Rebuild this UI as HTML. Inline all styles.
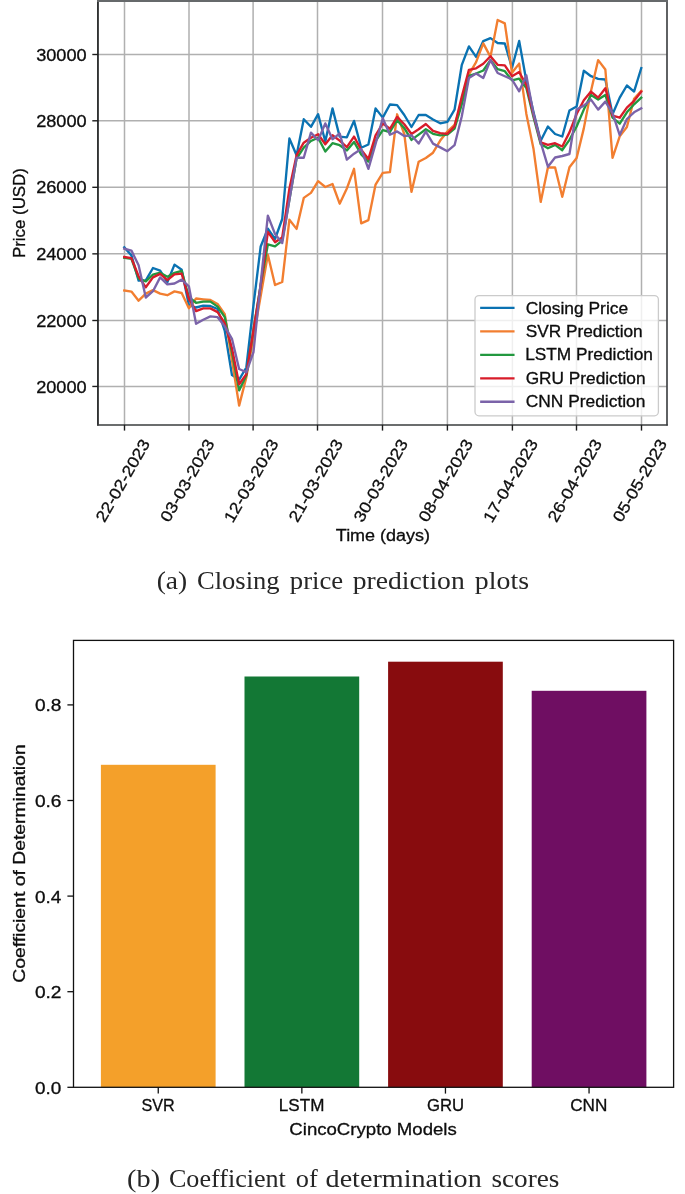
<!DOCTYPE html><html><head><meta charset="utf-8"><style>html,body{margin:0;padding:0;background:#fff;}svg{display:block;will-change:transform;}</style></head><body>
<svg width="685" height="1194" viewBox="0 0 685 1194">
<rect width="685" height="1194" fill="#fff"/>
<path d="M124.50,0.6V424.8M189.00,0.6V424.8M253.10,0.6V424.8M317.50,0.6V424.8M382.50,0.6V424.8M447.40,0.6V424.8M512.40,0.6V424.8M576.50,0.6V424.8M641.50,0.6V424.8M98.15,386.45H666.9M98.15,320.50H666.9M98.15,253.85H666.9M98.15,187.30H666.9M98.15,120.80H666.9M98.15,54.50H666.9" stroke="#b0b0b0" stroke-width="1.5" fill="none"/>
<clipPath id="c1"><rect x="98.15" y="0.6" width="568.75" height="424.2"/></clipPath>
<g clip-path="url(#c1)">
<polyline points="124.25,247.30 131.43,255.40 138.61,280.60 145.79,280.40 152.97,268.00 160.15,270.70 167.33,282.20 174.51,264.60 181.69,269.70 188.88,305.20 196.06,307.50 203.24,305.60 210.42,306.00 217.60,309.00 224.78,331.00 231.96,375.00 239.14,379.60 246.32,367.50 253.50,305.00 260.68,246.50 267.86,228.70 275.04,239.00 282.22,219.00 289.40,138.50 296.58,155.20 303.76,119.20 310.95,126.80 318.13,114.20 325.31,141.50 332.49,108.40 339.67,136.60 346.85,137.30 354.03,120.90 361.21,147.80 368.39,144.50 375.57,108.40 382.75,117.60 389.93,104.50 397.11,105.10 404.29,115.00 411.47,127.00 418.65,115.00 425.84,115.00 433.02,119.50 440.20,123.30 447.38,121.80 454.56,109.70 461.74,65.20 468.92,46.40 476.10,56.90 483.28,41.10 490.46,38.10 497.64,43.00 504.82,43.50 512.00,67.80 519.18,41.00 526.36,81.00 533.54,112.20 540.72,140.70 547.91,126.50 555.09,134.00 562.27,136.50 569.45,110.50 576.63,106.40 583.81,70.80 590.99,76.20 598.17,78.80 605.35,79.50 612.53,114.30 619.71,97.60 626.89,85.50 634.07,91.60 641.25,68.10" fill="none" stroke="#0a72b2" stroke-width="2.35" stroke-linejoin="round" stroke-linecap="square"/>
<polyline points="124.25,290.50 131.43,291.60 138.61,300.70 145.79,293.60 152.97,290.10 160.15,293.60 167.33,295.20 174.51,291.40 181.69,293.00 188.88,308.30 196.06,298.50 203.24,299.30 210.42,300.00 217.60,304.00 224.78,314.10 231.96,360.00 239.14,405.60 246.32,377.40 253.50,337.00 260.68,296.00 267.86,254.80 275.04,285.00 282.22,282.00 289.40,219.70 296.58,228.90 303.76,197.90 310.95,192.90 318.13,181.20 325.31,187.00 332.49,184.00 339.67,203.70 346.85,188.50 354.03,168.80 361.21,223.40 368.39,220.10 375.57,184.60 382.75,172.80 389.93,172.10 397.11,114.30 404.29,134.00 411.47,191.90 418.65,161.70 425.84,158.00 433.02,152.70 440.20,140.60 447.38,131.60 454.56,124.80 461.74,103.00 468.92,74.30 476.10,62.20 483.28,43.40 490.46,56.90 497.64,20.00 504.82,23.40 512.00,72.80 519.18,63.60 526.36,113.90 533.54,149.10 540.72,201.90 547.91,167.50 555.09,167.50 562.27,196.80 569.45,167.30 576.63,158.00 583.81,128.40 590.99,90.90 598.17,60.10 605.35,69.50 612.53,157.80 619.71,136.40 626.89,127.00 634.07,98.90 641.25,90.90" fill="none" stroke="#f27e30" stroke-width="2.35" stroke-linejoin="round" stroke-linecap="square"/>
<polyline points="124.25,257.70 131.43,258.90 138.61,278.60 145.79,281.40 152.97,274.70 160.15,272.70 167.33,276.70 174.51,272.90 181.69,270.90 188.88,297.30 196.06,302.80 203.24,301.60 210.42,301.60 217.60,306.60 224.78,317.10 231.96,352.30 239.14,390.40 246.32,375.40 253.50,330.00 260.68,285.00 267.86,244.30 275.04,246.40 282.22,240.60 289.40,199.60 296.58,158.60 303.76,147.70 310.95,141.00 318.13,137.70 325.31,151.50 332.49,143.20 339.67,145.20 346.85,150.40 354.03,141.90 361.21,154.40 368.39,161.60 375.57,141.20 382.75,130.10 389.93,132.00 397.11,120.20 404.29,128.10 411.47,139.90 418.65,134.60 425.84,129.30 433.02,133.80 440.20,135.30 447.38,134.60 454.56,128.60 461.74,104.40 468.92,75.80 476.10,73.50 483.28,70.50 490.46,60.10 497.64,69.20 504.82,71.20 512.00,80.40 519.18,78.70 526.36,88.00 533.54,117.30 540.72,144.10 547.91,148.30 555.09,144.90 562.27,150.20 569.45,139.80 576.63,126.50 583.81,109.60 590.99,94.90 598.17,99.60 605.35,94.90 612.53,117.70 619.71,123.70 626.89,112.30 634.07,104.30 641.25,97.60" fill="none" stroke="#22983f" stroke-width="2.35" stroke-linejoin="round" stroke-linecap="square"/>
<polyline points="124.25,257.00 131.43,258.10 138.61,276.30 145.79,287.30 152.97,277.40 160.15,273.90 167.33,280.20 174.51,274.40 181.69,273.70 188.88,298.90 196.06,311.10 203.24,308.30 210.42,308.40 217.60,312.10 224.78,323.20 231.96,348.30 239.14,384.20 246.32,374.30 253.50,330.00 260.68,285.60 267.86,231.80 275.04,242.20 282.22,237.50 289.40,188.70 296.58,155.20 303.76,142.70 310.95,137.70 318.13,134.30 325.31,144.20 332.49,135.20 339.67,140.60 346.85,147.20 354.03,136.60 361.21,149.80 368.39,159.00 375.57,135.30 382.75,123.50 389.93,128.80 397.11,116.90 404.29,124.20 411.47,134.00 418.65,129.30 425.84,124.00 433.02,130.80 440.20,133.10 447.38,133.80 454.56,126.30 461.74,96.90 468.92,69.80 476.10,68.30 483.28,63.70 490.46,56.20 497.64,64.80 504.82,65.30 512.00,76.20 519.18,72.00 526.36,85.00 533.54,115.00 540.72,142.40 547.91,144.90 555.09,143.20 562.27,146.50 569.45,132.40 576.63,114.00 583.81,100.30 590.99,91.60 598.17,97.60 605.35,88.20 612.53,115.70 619.71,117.70 626.89,107.60 634.07,100.90 641.25,91.60" fill="none" stroke="#d81c2a" stroke-width="2.35" stroke-linejoin="round" stroke-linecap="square"/>
<polyline points="124.25,248.70 131.43,250.60 138.61,265.20 145.79,297.50 152.97,291.20 160.15,277.40 167.33,284.40 174.51,283.50 181.69,279.60 188.88,286.30 196.06,323.80 203.24,319.70 210.42,316.40 217.60,317.20 224.78,326.40 231.96,338.80 239.14,369.00 246.32,372.30 253.50,352.00 260.68,283.00 267.86,215.60 275.04,234.00 282.22,243.00 289.40,200.00 296.58,157.70 303.76,157.70 310.95,132.60 318.13,140.20 325.31,123.40 332.49,139.30 339.67,133.40 346.85,159.60 354.03,153.70 361.21,149.10 368.39,168.80 375.57,143.90 382.75,118.20 389.93,134.70 397.11,131.40 404.29,136.00 411.47,135.30 418.65,143.60 425.84,131.60 433.02,143.60 440.20,147.40 447.38,151.20 454.56,145.20 461.74,116.50 468.92,78.00 476.10,73.50 483.28,78.00 490.46,60.00 497.64,73.00 504.82,76.20 512.00,79.50 519.18,91.30 526.36,75.40 533.54,113.90 540.72,142.40 547.91,166.70 555.09,157.50 562.27,156.00 569.45,154.00 576.63,109.50 583.81,105.60 590.99,99.60 598.17,109.60 605.35,101.60 612.53,113.00 619.71,135.10 626.89,119.00 634.07,112.30 641.25,108.30" fill="none" stroke="#7b63a9" stroke-width="2.35" stroke-linejoin="round" stroke-linecap="square"/>
</g>
<rect x="475.0" y="295.6" width="183.4" height="120.2" rx="4" ry="4" fill="#fff" fill-opacity="0.8" stroke="#cbcbcb" stroke-width="1.3"/>
<path d="M481.3,307.95H513.4" stroke="#0a72b2" stroke-width="2.3" stroke-linecap="square"/>
<path d="M481.3,331.40H513.4" stroke="#f27e30" stroke-width="2.3" stroke-linecap="square"/>
<path d="M481.3,354.85H513.4" stroke="#22983f" stroke-width="2.3" stroke-linecap="square"/>
<path d="M481.3,378.30H513.4" stroke="#d81c2a" stroke-width="2.3" stroke-linecap="square"/>
<path d="M481.3,401.75H513.4" stroke="#7b63a9" stroke-width="2.3" stroke-linecap="square"/>
<path d="M97.95,425.6V0" stroke="#262829" stroke-width="1.8" fill="none"/>
<path d="M667.0,425.6V0" stroke="#3e4143" stroke-width="1.65" fill="none"/>
<path d="M97.05,424.95H667.8" stroke="#3a3c3e" stroke-width="1.35" fill="none"/>
<rect x="97.05" y="0" width="570.75" height="2.0" fill="#66696b"/>
<path d="M92.3,386.45H98.15" stroke="#1e1e1e" stroke-width="1.4"/>
<path d="M92.3,320.50H98.15" stroke="#1e1e1e" stroke-width="1.4"/>
<path d="M92.3,253.85H98.15" stroke="#1e1e1e" stroke-width="1.4"/>
<path d="M92.3,187.30H98.15" stroke="#1e1e1e" stroke-width="1.4"/>
<path d="M92.3,120.80H98.15" stroke="#1e1e1e" stroke-width="1.4"/>
<path d="M92.3,54.50H98.15" stroke="#1e1e1e" stroke-width="1.4"/>
<path d="M124.50,424.8V430.6" stroke="#1e1e1e" stroke-width="1.4"/>
<path d="M189.00,424.8V430.6" stroke="#1e1e1e" stroke-width="1.4"/>
<path d="M253.10,424.8V430.6" stroke="#1e1e1e" stroke-width="1.4"/>
<path d="M317.50,424.8V430.6" stroke="#1e1e1e" stroke-width="1.4"/>
<path d="M382.50,424.8V430.6" stroke="#1e1e1e" stroke-width="1.4"/>
<path d="M447.40,424.8V430.6" stroke="#1e1e1e" stroke-width="1.4"/>
<path d="M512.40,424.8V430.6" stroke="#1e1e1e" stroke-width="1.4"/>
<path d="M576.50,424.8V430.6" stroke="#1e1e1e" stroke-width="1.4"/>
<path d="M641.50,424.8V430.6" stroke="#1e1e1e" stroke-width="1.4"/>
<rect x="100.90" y="764.8" width="114.7" height="322.50" fill="#f4a02a"/>
<rect x="244.50" y="676.5" width="114.7" height="410.80" fill="#137835"/>
<rect x="388.10" y="661.7" width="114.7" height="425.60" fill="#880c0e"/>
<rect x="531.70" y="690.8" width="114.7" height="396.50" fill="#6f0e62"/>
<rect x="73.5" y="640.4" width="600.10" height="446.90" fill="none" stroke="#111" stroke-width="1.3"/>
<path d="M67.4,1087.30H73.5" stroke="#111" stroke-width="1.3"/>
<path d="M67.4,991.70H73.5" stroke="#111" stroke-width="1.3"/>
<path d="M67.4,896.10H73.5" stroke="#111" stroke-width="1.3"/>
<path d="M67.4,800.50H73.5" stroke="#111" stroke-width="1.3"/>
<path d="M67.4,704.90H73.5" stroke="#111" stroke-width="1.3"/>
<path d="M158.25,1087.3V1093.6" stroke="#111" stroke-width="1.3"/>
<path d="M301.85,1087.3V1093.6" stroke="#111" stroke-width="1.3"/>
<path d="M445.45,1087.3V1093.6" stroke="#111" stroke-width="1.3"/>
<path d="M589.05,1087.3V1093.6" stroke="#111" stroke-width="1.3"/>
<text x="36.15" y="392.50" textLength="50.52" lengthAdjust="spacingAndGlyphs" font-family='"Liberation Sans", sans-serif' font-size="16.0" fill="#0d0d0d" stroke="#0d0d0d" stroke-width="0.3">20000</text>
<text x="36.15" y="326.55" textLength="50.52" lengthAdjust="spacingAndGlyphs" font-family='"Liberation Sans", sans-serif' font-size="16.0" fill="#0d0d0d" stroke="#0d0d0d" stroke-width="0.3">22000</text>
<text x="36.15" y="259.90" textLength="50.52" lengthAdjust="spacingAndGlyphs" font-family='"Liberation Sans", sans-serif' font-size="16.0" fill="#0d0d0d" stroke="#0d0d0d" stroke-width="0.3">24000</text>
<text x="36.15" y="193.35" textLength="50.52" lengthAdjust="spacingAndGlyphs" font-family='"Liberation Sans", sans-serif' font-size="16.0" fill="#0d0d0d" stroke="#0d0d0d" stroke-width="0.3">26000</text>
<text x="36.15" y="126.85" textLength="50.52" lengthAdjust="spacingAndGlyphs" font-family='"Liberation Sans", sans-serif' font-size="16.0" fill="#0d0d0d" stroke="#0d0d0d" stroke-width="0.3">28000</text>
<text x="36.15" y="60.55" textLength="50.52" lengthAdjust="spacingAndGlyphs" font-family='"Liberation Sans", sans-serif' font-size="16.0" fill="#0d0d0d" stroke="#0d0d0d" stroke-width="0.3">30000</text>
<text x="0" y="0" transform="translate(104.41,523.23) rotate(-60)" textLength="92.30" lengthAdjust="spacingAndGlyphs" font-family='"Liberation Sans", sans-serif' font-size="16.0" fill="#0d0d0d" stroke="#0d0d0d" stroke-width="0.3">22-02-2023</text>
<text x="0" y="0" transform="translate(168.91,523.23) rotate(-60)" textLength="92.30" lengthAdjust="spacingAndGlyphs" font-family='"Liberation Sans", sans-serif' font-size="16.0" fill="#0d0d0d" stroke="#0d0d0d" stroke-width="0.3">03-03-2023</text>
<text x="0" y="0" transform="translate(232.72,523.73) rotate(-60)" textLength="92.88" lengthAdjust="spacingAndGlyphs" font-family='"Liberation Sans", sans-serif' font-size="16.0" fill="#0d0d0d" stroke="#0d0d0d" stroke-width="0.3">12-03-2023</text>
<text x="0" y="0" transform="translate(297.41,523.23) rotate(-60)" textLength="92.30" lengthAdjust="spacingAndGlyphs" font-family='"Liberation Sans", sans-serif' font-size="16.0" fill="#0d0d0d" stroke="#0d0d0d" stroke-width="0.3">21-03-2023</text>
<text x="0" y="0" transform="translate(362.41,523.23) rotate(-60)" textLength="92.30" lengthAdjust="spacingAndGlyphs" font-family='"Liberation Sans", sans-serif' font-size="16.0" fill="#0d0d0d" stroke="#0d0d0d" stroke-width="0.3">30-03-2023</text>
<text x="0" y="0" transform="translate(427.31,523.23) rotate(-60)" textLength="92.30" lengthAdjust="spacingAndGlyphs" font-family='"Liberation Sans", sans-serif' font-size="16.0" fill="#0d0d0d" stroke="#0d0d0d" stroke-width="0.3">08-04-2023</text>
<text x="0" y="0" transform="translate(492.02,523.73) rotate(-60)" textLength="92.88" lengthAdjust="spacingAndGlyphs" font-family='"Liberation Sans", sans-serif' font-size="16.0" fill="#0d0d0d" stroke="#0d0d0d" stroke-width="0.3">17-04-2023</text>
<text x="0" y="0" transform="translate(556.41,523.23) rotate(-60)" textLength="92.30" lengthAdjust="spacingAndGlyphs" font-family='"Liberation Sans", sans-serif' font-size="16.0" fill="#0d0d0d" stroke="#0d0d0d" stroke-width="0.3">26-04-2023</text>
<text x="0" y="0" transform="translate(621.41,523.23) rotate(-60)" textLength="92.30" lengthAdjust="spacingAndGlyphs" font-family='"Liberation Sans", sans-serif' font-size="16.0" fill="#0d0d0d" stroke="#0d0d0d" stroke-width="0.3">05-05-2023</text>
<text x="335.82" y="541.17" textLength="94.25" lengthAdjust="spacingAndGlyphs" font-family='"Liberation Sans", sans-serif' font-size="16.0" fill="#0d0d0d" stroke="#0d0d0d" stroke-width="0.3">Time (days)</text>
<text x="0" y="0" transform="translate(25.23,258.12) rotate(-90)" textLength="90.07" lengthAdjust="spacingAndGlyphs" font-family='"Liberation Sans", sans-serif' font-size="16.0" fill="#0d0d0d" stroke="#0d0d0d" stroke-width="0.3">Price (USD)</text>
<text x="525.68" y="313.65" textLength="102.45" lengthAdjust="spacingAndGlyphs" font-family='"Liberation Sans", sans-serif' font-size="16.0" fill="#0d0d0d" stroke="#0d0d0d" stroke-width="0.3">Closing Price</text>
<text x="525.69" y="336.95" textLength="116.99" lengthAdjust="spacingAndGlyphs" font-family='"Liberation Sans", sans-serif' font-size="16.0" fill="#0d0d0d" stroke="#0d0d0d" stroke-width="0.3">SVR Prediction</text>
<text x="525.15" y="360.25" textLength="127.75" lengthAdjust="spacingAndGlyphs" font-family='"Liberation Sans", sans-serif' font-size="16.0" fill="#0d0d0d" stroke="#0d0d0d" stroke-width="0.3">LSTM Prediction</text>
<text x="525.69" y="383.55" textLength="119.86" lengthAdjust="spacingAndGlyphs" font-family='"Liberation Sans", sans-serif' font-size="16.0" fill="#0d0d0d" stroke="#0d0d0d" stroke-width="0.3">GRU Prediction</text>
<text x="525.69" y="406.85" textLength="119.72" lengthAdjust="spacingAndGlyphs" font-family='"Liberation Sans", sans-serif' font-size="16.0" fill="#0d0d0d" stroke="#0d0d0d" stroke-width="0.3">CNN Prediction</text>
<text x="156.72" y="588.50" textLength="30.52" lengthAdjust="spacingAndGlyphs" font-family='"Liberation Serif", serif' font-size="25.5" fill="#262626">(a)</text>
<text x="196.96" y="588.50" textLength="82.72" lengthAdjust="spacingAndGlyphs" font-family='"Liberation Serif", serif' font-size="25.5" fill="#262626">Closing</text>
<text x="289.88" y="588.50" textLength="53.34" lengthAdjust="spacingAndGlyphs" font-family='"Liberation Serif", serif' font-size="25.5" fill="#262626">price</text>
<text x="352.76" y="588.50" textLength="111.96" lengthAdjust="spacingAndGlyphs" font-family='"Liberation Serif", serif' font-size="25.5" fill="#262626">prediction</text>
<text x="474.85" y="588.50" textLength="54.17" lengthAdjust="spacingAndGlyphs" font-family='"Liberation Serif", serif' font-size="25.5" fill="#262626">plots</text>
<text x="34.91" y="1093.80" textLength="26.28" lengthAdjust="spacingAndGlyphs" font-family='"Liberation Sans", sans-serif' font-size="16.0" fill="#0d0d0d" stroke="#0d0d0d" stroke-width="0.3">0.0</text>
<text x="34.90" y="998.20" textLength="26.59" lengthAdjust="spacingAndGlyphs" font-family='"Liberation Sans", sans-serif' font-size="16.0" fill="#0d0d0d" stroke="#0d0d0d" stroke-width="0.3">0.2</text>
<text x="34.91" y="902.60" textLength="26.28" lengthAdjust="spacingAndGlyphs" font-family='"Liberation Sans", sans-serif' font-size="16.0" fill="#0d0d0d" stroke="#0d0d0d" stroke-width="0.3">0.4</text>
<text x="34.90" y="807.00" textLength="26.59" lengthAdjust="spacingAndGlyphs" font-family='"Liberation Sans", sans-serif' font-size="16.0" fill="#0d0d0d" stroke="#0d0d0d" stroke-width="0.3">0.6</text>
<text x="34.90" y="711.40" textLength="26.59" lengthAdjust="spacingAndGlyphs" font-family='"Liberation Sans", sans-serif' font-size="16.0" fill="#0d0d0d" stroke="#0d0d0d" stroke-width="0.3">0.8</text>
<text x="141.54" y="1111.00" textLength="33.27" lengthAdjust="spacingAndGlyphs" font-family='"Liberation Sans", sans-serif' font-size="16.0" fill="#0d0d0d" stroke="#0d0d0d" stroke-width="0.3">SVR</text>
<text x="278.87" y="1111.00" textLength="45.48" lengthAdjust="spacingAndGlyphs" font-family='"Liberation Sans", sans-serif' font-size="16.0" fill="#0d0d0d" stroke="#0d0d0d" stroke-width="0.3">LSTM</text>
<text x="426.92" y="1111.00" textLength="37.15" lengthAdjust="spacingAndGlyphs" font-family='"Liberation Sans", sans-serif' font-size="16.0" fill="#0d0d0d" stroke="#0d0d0d" stroke-width="0.3">GRU</text>
<text x="570.20" y="1111.00" textLength="37.13" lengthAdjust="spacingAndGlyphs" font-family='"Liberation Sans", sans-serif' font-size="16.0" fill="#0d0d0d" stroke="#0d0d0d" stroke-width="0.3">CNN</text>
<text x="289.32" y="1134.65" textLength="167.49" lengthAdjust="spacingAndGlyphs" font-family='"Liberation Sans", sans-serif' font-size="17.2" fill="#0d0d0d" stroke="#0d0d0d" stroke-width="0.3">CincoCrypto Models</text>
<text x="0" y="0" transform="translate(24.93,982.83) rotate(-90)" textLength="238.49" lengthAdjust="spacingAndGlyphs" font-family='"Liberation Sans", sans-serif' font-size="17.2" fill="#0d0d0d" stroke="#0d0d0d" stroke-width="0.3">Coefficient of Determination</text>
<text x="127.09" y="1187.40" textLength="32.98" lengthAdjust="spacingAndGlyphs" font-family='"Liberation Serif", serif' font-size="25.5" fill="#262626">(b)</text>
<text x="168.98" y="1187.40" textLength="116.88" lengthAdjust="spacingAndGlyphs" font-family='"Liberation Serif", serif' font-size="25.5" fill="#262626">Coefficient</text>
<text x="295.77" y="1187.40" textLength="21.93" lengthAdjust="spacingAndGlyphs" font-family='"Liberation Serif", serif' font-size="25.5" fill="#262626">of</text>
<text x="325.60" y="1187.40" textLength="156.12" lengthAdjust="spacingAndGlyphs" font-family='"Liberation Serif", serif' font-size="25.5" fill="#262626">determination</text>
<text x="491.43" y="1187.40" textLength="68.02" lengthAdjust="spacingAndGlyphs" font-family='"Liberation Serif", serif' font-size="25.5" fill="#262626">scores</text>
</svg></body></html>
